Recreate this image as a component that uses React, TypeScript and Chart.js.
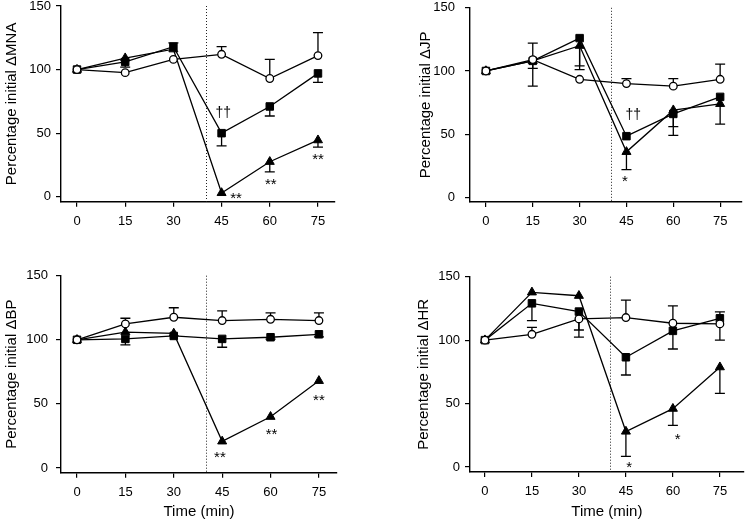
import React, { useEffect, useRef } from "react";
import { Chart, registerables } from "chart.js";

Chart.register(...registerables);

// ---------- data ----------
const times = [0, 15, 30, 45, 60, 75];
const xTickValues = [0, 15, 30, 45, 60, 75];
const yTickValues = [0, 50, 100, 150];

// MNA
const mnaCircle = [100, 97.6, 108, 112, 93, 111];
const mnaCircleErr = [0, 0, 0, 6, 15, 18];
const mnaSquare = [100, 106, 118, 50, 71, 97];
const mnaSquareErr = [0, -4, 3, -10, -7.5, -7];
const mnaTriangle = [100, 109, 116, 3, 27.5, 44.5];
const mnaTriangleErr = [0, 0, 0, 0, -8, -5.5];

// JP
const jpCircle = [100, 109, 93.4, 90, 88, 93.4];
const jpCircleErr = [0, 13, 0, 4, 6, 12];
const jpSquare = [100, 108, 126, 48.4, 66, 79.5];
const jpSquareErr = [0, -6, -25, 0, -10, 0];
const jpTriangle = [100, 108, 120, 36, 69, 74];
const jpTriangleErr = [0, -20, -16, -14, -20, -16];

// BP
const bpCircle = [100, 112.4, 117.6, 115, 116, 115];
const bpCircleErr = [0, 4.4, 7.4, 7.5, 5, 6];
const bpSquare = [100, 100.7, 103, 100.7, 102, 104.3];
const bpSquareErr = [0, -4.7, 0, -6.5, -1.5, -2];
const bpTriangle = [100, 106, 105, 20.8, 40, 68];
const bpTriangleErr = [0, 0, 0, 0, 0, 0];

// HR
const hrCircle = [100, 104.6, 116.7, 117.8, 113.3, 112.8];
const hrCircleErr = [0, 5.4, -14.4, 13.8, 13.7, -12.8];
const hrSquare = [100, 129, 122.5, 86.5, 107.3, 117.2];
const hrSquareErr = [0, -13.6, -14.5, -14, -14.3, 5];
const hrTriangle = [100, 137.7, 135, 28, 46, 78.7];
const hrTriangleErr = [0, 0, 0, -19.6, -13.2, -20.7];

// significance marks: [text, x, y]
const mnaMarks: [string, number, number][] = [["††", 45.5, 66], ["**", 49.5, 0.5], ["**", 60.3, 12], ["**", 75, 31]];
const jpMarks: [string, number, number][] = [["††", 47.2, 65], ["*", 44.5, 15]];
const bpMarks: [string, number, number][] = [["**", 44.3, 10.4], ["**", 60.3, 28.5], ["**", 75, 55]];
const hrMarks: [string, number, number][] = [["*", 46, 1.5], ["*", 61.5, 24]];

const dividerX = 40;

const FONT = "'Liberation Sans', Arial, Helvetica, sans-serif";

type Panel = {
  L: number; T: number; W: number; H: number;
  left: number; top: number; right: number; bottom: number;
  xMin: number; xMax: number; yMin: number;
  titleX: number; yTitle: string; yTickPad: number;
  xTitle?: string; xTitleY?: number;
  circle: number[]; circleErr: number[];
  square: number[]; squareErr: number[];
  triangle: number[]; triangleErr: number[];
  marks: [string, number, number][];
};

const panels: Panel[] = [
  {
    L: 0, T: -10, W: 375, H: 245, left: 61, top: 6, right: 335, bottom: 201.7,
    xMin: -4.98, xMax: 80.3, yMin: -3.9, titleX: 11.5, yTitle: "Percentage initial \u0394MNA", yTickPad: 5,
    circle: mnaCircle, circleErr: mnaCircleErr, square: mnaSquare, squareErr: mnaSquareErr,
    triangle: mnaTriangle, triangleErr: mnaTriangleErr, marks: mnaMarks,
  },
  {
    L: 410, T: -10, W: 340, H: 245, left: 470, top: 7.3, right: 742, bottom: 202,
    xMin: -5.1, xMax: 82, yMin: -3.7, titleX: 426, yTitle: "Percentage initial \u0394JP", yTickPad: 10,
    circle: jpCircle, circleErr: jpCircleErr, square: jpSquare, squareErr: jpSquareErr,
    triangle: jpTriangle, triangleErr: jpTriangleErr, marks: jpMarks,
  },
  {
    L: 0, T: 240, W: 375, H: 283, left: 61, top: 275.7, right: 337, bottom: 472.7,
    xMin: -4.96, xMax: 80.6, yMin: -3.67, titleX: 12, yTitle: "Percentage initial \u0394BP", yTickPad: 8,
    xTitle: "Time (min)", xTitleY: 511.7,
    circle: bpCircle, circleErr: bpCircleErr, square: bpSquare, squareErr: bpSquareErr,
    triangle: bpTriangle, triangleErr: bpTriangleErr, marks: bpMarks,
  },
  {
    L: 410, T: 240, W: 340, H: 283, left: 470, top: 276.7, right: 745, bottom: 472,
    xMin: -4.77, xMax: 82.6, yMin: -3.94, titleX: 424, yTitle: "Percentage initial \u0394HR", yTickPad: 5,
    xTitle: "Time (min)", xTitleY: 511.7,
    circle: hrCircle, circleErr: hrCircleErr, square: hrSquare, squareErr: hrSquareErr,
    triangle: hrTriangle, triangleErr: hrTriangleErr, marks: hrMarks,
  },
];

const TITLE_SIZE = 15;
const TICK_SIZE = 13;

function PanelChart({ p }: { p: Panel }) {
  const ref = useRef<HTMLCanvasElement | null>(null);
  useEffect(() => {
    if (!ref.current) return;
    const toPts = (vals: number[]) => times.map((t, i) => ({ x: t, y: vals[i] }));
    const errs = [p.circleErr, p.squareErr, p.triangleErr];
    const vals = [p.circle, p.square, p.triangle];
    const lh = TITLE_SIZE * 1.2;
    const yTitlePad = p.titleX - p.L - lh / 2;
    const xTitlePad = p.xTitleY !== undefined ? (p.T + p.H) - p.xTitleY - lh / 2 : 0;

    const extras = {
      id: "extras",
      beforeDatasetsDraw(chart: any) {
        const ctx = chart.ctx;
        const xs = chart.scales.x;
        const ys = chart.scales.y;
        const area = chart.chartArea;
        ctx.save();
        // dotted divider
        ctx.strokeStyle = "#222";
        ctx.lineWidth = 1;
        ctx.setLineDash([1, 2]);
        const dx = Math.round(xs.getPixelForValue(dividerX)) + 0.5;
        ctx.beginPath();
        ctx.moveTo(dx, area.top);
        ctx.lineTo(dx, area.bottom);
        ctx.stroke();
        ctx.setLineDash([]);
        // error bars
        ctx.strokeStyle = "#000";
        ctx.lineWidth = 1.3;
        for (let s = 0; s < 3; s++) {
          for (let i = 0; i < times.length; i++) {
            const e = errs[s][i];
            if (!e) continue;
            const px = xs.getPixelForValue(times[i]);
            const py1 = ys.getPixelForValue(vals[s][i]);
            const py2 = ys.getPixelForValue(vals[s][i] + e);
            ctx.beginPath();
            ctx.moveTo(px, py1);
            ctx.lineTo(px, py2);
            ctx.moveTo(px - 5, py2);
            ctx.lineTo(px + 5, py2);
            ctx.stroke();
          }
        }
        ctx.restore();
      },
      afterDatasetsDraw(chart: any) {
        const ctx = chart.ctx;
        const xs = chart.scales.x;
        const ys = chart.scales.y;
        ctx.save();
        ctx.fillStyle = "#000";
        ctx.textAlign = "center";
        ctx.textBaseline = "middle";
        for (const [txt, x, y] of p.marks) {
          const isStar = txt.startsWith("*");
          ctx.font = isStar ? `15px ${FONT}` : `14px ${FONT}`;
          const yOff = isStar ? 3 : 0;
          ctx.fillText(txt, xs.getPixelForValue(x), ys.getPixelForValue(y) + yOff);
        }
        ctx.restore();
      },
    };

    const chart = new Chart(ref.current, {
      type: "line",
      data: {
        datasets: [
          {
            data: toPts(p.circle),
            borderColor: "#000", borderWidth: 1.3,
            pointStyle: "circle", pointRadius: 3.8, pointBackgroundColor: "#fff",
            pointBorderColor: "#000", pointBorderWidth: 1.3,
          },
          {
            data: toPts(p.square),
            borderColor: "#000", borderWidth: 1.3,
            pointStyle: "rect", pointRadius: 5.3, pointBackgroundColor: "#000",
            pointBorderColor: "#000", pointBorderWidth: 1,
          },
          {
            data: toPts(p.triangle),
            borderColor: "#000", borderWidth: 1.3,
            pointStyle: "triangle", pointRadius: 5.2, pointBackgroundColor: "#000",
            pointBorderColor: "#000", pointBorderWidth: 1,
          },
        ],
      },
      options: {
        animation: false,
        responsive: false,
        devicePixelRatio: 1,
        layout: {
          padding: {
            left: 0,
            top: p.top - p.T,
            right: p.L + p.W - p.right,
            bottom: 0,
          },
        },
        plugins: { legend: { display: false }, tooltip: { enabled: false } },
        scales: {
          x: {
            type: "linear",
            min: p.xMin,
            max: p.xMax,
            afterBuildTicks: (s: any) => { s.ticks = xTickValues.map((v) => ({ value: v })); },
            afterFit: (s: any) => { s.height = p.T + p.H - p.bottom; },
            grid: { display: true, drawOnChartArea: false, drawTicks: true, tickLength: 5, color: "#000", lineWidth: 1.2 },
            border: { display: true, color: "#000", width: 1.4 },
            ticks: { color: "#000", font: { family: FONT, size: TICK_SIZE }, padding: 7, maxRotation: 0, autoSkip: false },
            title: {
              display: !!p.xTitle,
              text: p.xTitle || "",
              color: "#000",
              font: { family: FONT, size: TITLE_SIZE },
              padding: { top: 0, bottom: xTitlePad },
            },
          },
          y: {
            type: "linear",
            min: p.yMin,
            max: 150,
            afterBuildTicks: (s: any) => { s.ticks = yTickValues.map((v) => ({ value: v })); },
            afterFit: (s: any) => { s.width = p.left - p.L; },
            grid: { display: true, drawOnChartArea: false, drawTicks: true, tickLength: 5, color: "#000", lineWidth: 1.2 },
            border: { display: true, color: "#000", width: 1.4 },
            ticks: { color: "#000", font: { family: FONT, size: TICK_SIZE }, padding: p.yTickPad },
            title: {
              display: true,
              text: p.yTitle,
              color: "#000",
              font: { family: FONT, size: TITLE_SIZE },
              padding: { top: yTitlePad, bottom: 0 },
            },
          },
        },
      },
      plugins: [extras],
    } as any);
    return () => chart.destroy();
  }, [p]);
  return (
    <canvas
      ref={ref}
      width={p.W}
      height={p.H}
      style={{ position: "absolute", left: p.L, top: p.T, width: p.W, height: p.H }}
    />
  );
}

export default function App() {
  return (
    <div style={{ position: "absolute", left: 0, top: 0, width: 750, height: 523, overflow: "hidden", background: "#fff" }}>
      {panels.map((p, i) => (
        <PanelChart key={i} p={p} />
      ))}
    </div>
  );
}
